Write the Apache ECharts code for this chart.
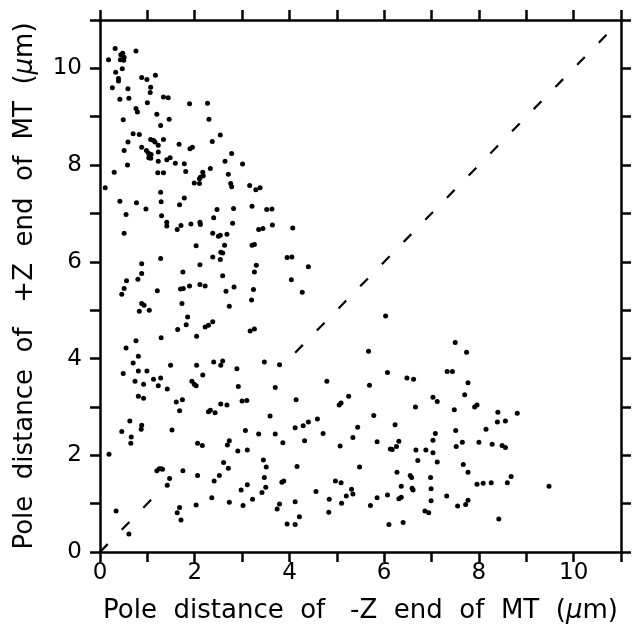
<!DOCTYPE html>
<html><head><meta charset="utf-8">
<script src="https://cdn.jsdelivr.net/npm/echarts@6/dist/echarts.min.js"></script>
<style>html,body{margin:0;padding:0;background:#fff}#c{width:637px;height:641px}</style>
</head><body><div id="c"></div>
<script>
const tickLabels = [0, 2, 4, 6, 8, 10];
const xTitle = 'Pole  distance  of   -Z  end  of  MT  ({i|μ}m)';
const yTitle = 'Pole  distance  of   +Z  end  of  MT  ({i|μ}m)';

const pointsTop = [[0.32,10.41],[0.18,10.18],[0.44,10.28],[0.48,10.31],[0.51,10.23],[0.43,10.18],[0.5,10.17],[0.76,10.36],[0.47,9.99],[0.33,9.92],[0.39,9.79],[0.39,9.74],[0.88,9.81],[0.99,9.77],[1.17,9.86],[0.26,9.6],[0.59,9.58],[1.07,9.61],[1.06,9.5],[0.42,9.36],[0.61,9.38],[1.0,9.29],[1.34,9.41],[1.44,9.39],[1.89,9.27],[2.27,9.28],[0.76,9.17],[0.79,9.1],[1.2,9.05],[0.49,8.94],[1.46,8.95],[2.3,8.95],[1.28,8.82],[0.7,8.65],[0.83,8.63],[2.54,8.62],[1.07,8.53],[1.13,8.51],[1.16,8.48],[1.23,8.41],[1.34,8.53],[0.59,8.48],[1.67,8.43],[2.37,8.49],[1.9,8.34],[1.95,8.37],[0.51,8.3],[0.88,8.37],[0.98,8.3],[1.02,8.25],[1.05,8.2],[1.08,8.22],[1.03,8.15],[1.07,8.14],[1.23,8.27],[2.78,8.24],[1.23,8.08],[1.41,8.11],[1.48,8.15],[1.59,8.04],[1.78,8.03],[0.58,8.0],[2.64,8.08],[3.01,8.02],[2.33,7.93],[1.81,7.87],[0.3,7.85],[1.22,7.84],[1.34,7.84],[2.17,7.85],[2.18,7.78],[2.12,7.75],[2.1,7.72],[2.71,7.81],[1.99,7.63],[2.1,7.62],[2.76,7.62],[2.78,7.55],[3.16,7.58],[3.29,7.49],[3.38,7.53],[0.11,7.53],[1.28,7.44],[1.78,7.32],[0.42,7.25],[0.77,7.22],[1.29,7.24],[1.68,7.18],[0.97,7.09],[2.47,7.08],[2.82,7.1],[3.21,7.15],[3.52,7.08],[3.63,7.09]];

const pointsMiddle = [[0.55,6.98],[1.3,6.95],[1.41,6.82],[1.41,6.74],[1.63,6.67],[1.71,6.75],[1.92,6.78],[2.11,6.82],[2.12,6.77],[2.4,6.91],[2.8,6.8],[3.64,6.76],[3.35,6.67],[3.44,6.69],[0.51,6.59],[2.38,6.59],[2.5,6.53],[2.54,6.55],[2.68,6.57],[2.03,6.33],[2.63,6.34],[3.21,6.34],[3.26,6.36],[2.59,6.18],[2.55,6.2],[1.28,6.07],[2.38,6.1],[2.54,6.05],[3.95,6.09],[0.88,5.96],[2.11,5.94],[3.3,5.93],[0.88,5.76],[0.8,5.64],[1.75,5.79],[3.26,5.79],[0.56,5.61],[2.59,5.71],[0.51,5.45],[0.46,5.33],[1.7,5.44],[1.76,5.45],[1.89,5.5],[2.11,5.53],[2.22,5.5],[2.83,5.48],[3.24,5.43],[1.21,5.4],[2.66,5.39],[0.88,5.14],[0.93,5.1],[0.83,4.98],[1.04,5.0],[1.73,5.14],[2.73,5.08],[3.2,5.21],[1.85,4.86],[1.82,4.7],[1.64,4.6],[2.22,4.65],[2.29,4.69],[2.38,4.76],[3.17,4.57],[3.26,4.61],[1.29,4.43],[2.04,4.46],[0.76,4.37],[0.55,4.22],[0.81,4.05],[0.7,3.91],[1.49,3.86],[2.04,3.86],[2.4,3.93],[2.59,3.95],[2.55,3.86],[2.89,3.79],[3.47,3.93],[3.79,3.87],[0.49,3.69],[0.81,3.74],[0.99,3.74],[2.17,3.66],[0.74,3.53],[0.92,3.47],[1.13,3.57],[1.28,3.6],[1.23,3.44],[1.42,3.37],[1.94,3.53],[1.99,3.47],[2.03,3.44],[2.92,3.42],[3.7,3.4],[4.07,6.7],[4.05,6.1],[4.4,5.9],[4.04,5.63],[4.27,5.37]];

const pointsLowLeft = [[0.81,3.22],[0.92,3.18],[1.61,3.1],[1.74,3.15],[1.68,2.92],[2.29,2.9],[2.33,2.93],[2.43,2.88],[2.55,3.06],[2.68,3.04],[3.0,3.12],[3.1,3.13],[3.59,2.81],[0.46,2.49],[0.63,2.71],[0.66,2.38],[0.65,2.25],[0.88,2.62],[0.87,2.54],[1.52,2.52],[3.07,2.51],[3.35,2.44],[3.7,2.44],[3.86,2.26],[2.06,2.25],[2.16,2.2],[2.69,2.21],[2.73,2.3],[2.91,2.09],[3.11,2.11],[0.19,2.02],[3.45,1.9],[3.51,1.76],[2.61,1.85],[2.71,1.73],[1.2,1.68],[1.25,1.72],[1.29,1.72],[1.32,1.71],[1.75,1.68],[1.47,1.52],[1.42,1.38],[2.06,1.58],[2.52,1.58],[2.41,1.47],[3.47,1.54],[3.84,1.44],[3.88,1.47],[3.11,1.39],[2.98,1.28],[3.5,1.34],[3.42,1.23],[3.22,1.09],[2.36,1.12],[2.73,1.03],[3.02,0.96],[2.03,0.97],[3.79,0.99],[3.74,0.89],[0.34,0.85],[1.68,0.92],[1.63,0.81],[1.71,0.66],[0.61,0.37],[3.95,0.58]];

const pointsLowCenter = [[6.03,4.88],[5.67,4.15],[4.79,3.53],[6.07,3.71],[5.69,3.45],[6.48,3.6],[6.62,3.57],[4.14,3.15],[5.05,3.04],[5.09,3.08],[5.25,3.22],[6.66,3.0],[7.03,3.2],[7.12,3.11],[5.78,2.82],[4.12,2.57],[4.29,2.61],[4.4,2.69],[4.59,2.75],[4.71,2.45],[5.44,2.58],[5.34,2.37],[4.32,2.3],[5.07,2.19],[5.85,2.28],[6.23,2.63],[6.13,2.13],[6.17,2.12],[6.26,2.18],[6.31,2.29],[6.67,2.11],[6.71,1.89],[6.88,2.11],[7.03,2.31],[7.08,2.45],[7.03,2.05],[7.12,1.86],[4.16,1.77],[5.48,1.76],[6.27,1.65],[4.56,1.25],[4.97,1.47],[5.09,1.43],[5.31,1.3],[5.34,1.2],[5.2,1.16],[4.84,1.09],[4.83,0.82],[5.1,1.01],[4.12,1.04],[4.21,0.73],[4.12,0.57],[5.71,0.96],[5.85,1.12],[6.07,1.18],[6.36,1.36],[6.55,1.58],[6.58,1.54],[6.59,1.32],[6.61,1.28],[6.31,1.1],[6.36,1.13],[6.98,1.54],[6.99,1.31],[6.99,1.06],[6.86,0.85],[6.94,0.81],[6.1,0.57],[6.4,0.61]];

const pointsLowRight = [[7.5,4.33],[7.74,4.13],[7.33,3.73],[7.44,3.73],[7.77,3.5],[7.7,3.25],[7.48,2.94],[7.91,3.0],[7.96,3.04],[8.4,2.89],[8.81,2.87],[7.51,2.51],[8.15,2.54],[8.39,2.69],[8.56,2.71],[7.52,2.18],[7.65,2.27],[8.0,2.27],[8.28,2.23],[8.49,2.2],[8.56,2.16],[7.67,1.81],[7.77,1.65],[7.96,1.4],[8.09,1.42],[8.26,1.43],[8.6,1.43],[8.68,1.56],[9.48,1.36],[7.32,1.16],[7.55,0.95],[7.72,0.98],[7.77,1.07],[8.42,0.68]];

const diagonalLow = [[0, 0], [1.1, 1.1]];
const diagonalHigh = [[4.12, 4.12], [10.75, 10.75]];

const FONT = 'DejaVu Sans';
const allPoints = [].concat(pointsTop, pointsMiddle, pointsLowLeft, pointsLowCenter, pointsLowRight);

function axisBase() {
  return {
    type: 'value', min: 0, max: 11, interval: 1,
    axisLine: { show: true, onZero: false, lineStyle: { color: '#000', width: 2.5 } },
    axisTick: { show: true, inside: false, length: 10, lineStyle: { color: '#000', width: 2.5 } },
    splitLine: { show: false }
  };
}
const labelStyle = (margin) => ({
  show: true, margin: margin, fontSize: 23, color: '#000', fontFamily: FONT,
  showMinLabel: true, showMaxLabel: true,
  formatter: v => tickLabels.includes(v) ? String(v) : ''
});
const nameStyle = {
  fontSize: 26, color: '#000', fontFamily: FONT,
  rich: { i: { fontSize: 26, fontStyle: 'italic', fontFamily: FONT, color: '#000' } }
};

const chart = echarts.init(document.getElementById('c'));
chart.setOption({
  animation: false,
  backgroundColor: '#fff',
  grid: { left: 100, right: 16, top: 20, bottom: 89 },
  xAxis: [
    Object.assign(axisBase(), { position: 'bottom', axisLabel: labelStyle(10),
      name: xTitle, nameLocation: 'middle', nameGap: 46, nameTextStyle: nameStyle }),
    Object.assign(axisBase(), { position: 'top', axisLabel: { show: false } })
  ],
  yAxis: [
    Object.assign(axisBase(), { position: 'left', axisLabel: labelStyle(18),
      name: yTitle, nameLocation: 'middle', nameGap: 62, nameTextStyle: nameStyle }),
    Object.assign(axisBase(), { position: 'right', axisLabel: { show: false } })
  ],
  series: [
    { type: 'scatter', data: allPoints, symbolSize: 5, itemStyle: { color: '#000', opacity: 1 }, silent: true },
    { type: 'line', data: diagonalLow, symbol: 'none', silent: true,
      lineStyle: { color: '#000', width: 2.2, type: [11, 20] } },
    { type: 'line', data: diagonalHigh, symbol: 'none', silent: true,
      lineStyle: { color: '#000', width: 2.2, type: [11, 20] } }
  ]
});
</script></body></html>
